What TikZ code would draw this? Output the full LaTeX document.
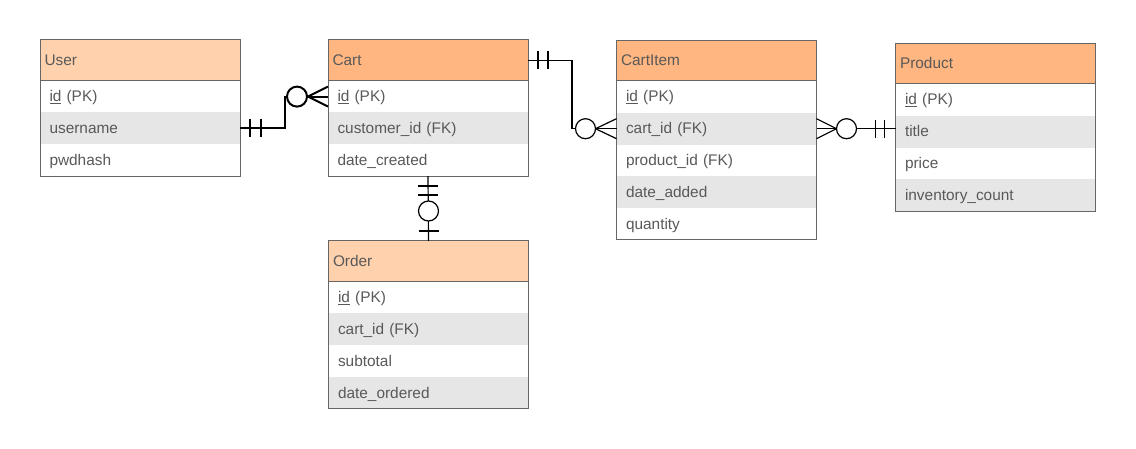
\documentclass[tikz,border=0pt]{standalone}
\usepackage{fontspec}
\setmainfont{Liberation Sans}
\usetikzlibrary{calc}
\definecolor{orA}{HTML}{FFB680}
\definecolor{orB}{HTML}{FFD1AC}
\definecolor{rowgray}{HTML}{E6E6E6}
\definecolor{bord}{HTML}{666666}
\definecolor{txt}{HTML}{595959}
\newcommand\efont{\fontsize{15.4}{18}\selectfont}
\tikzset{
  hdr/.style={draw=bord, line width=1pt, minimum height=40.7pt, text width=191pt,
    inner xsep=4.5pt, inner ysep=0pt, outer sep=0pt, anchor=north west, align=left, font=\efont,
    text=txt, text height=12pt, text depth=2pt},
  hdrA/.style={hdr, fill=orA},
  hdrB/.style={hdr, fill=orB},
  row/.style={minimum height=31.8pt, text width=181pt, inner xsep=9.5pt, inner ysep=0pt,
    outer sep=0pt, anchor=north west, align=left, text=txt, fill=white, font=\efont,
    text height=12pt, text depth=2pt},
  rowg/.style={row, fill=rowgray},
  frame/.style={draw=bord, line width=1pt},
  rel/.style={line width=1.2pt, black},
  relb/.style={line width=2pt, black},
}
\begin{document}
\begin{tikzpicture}[x=1pt,y=-1pt]
\fill[white] (0,0) rectangle (1136,449);
\useasboundingbox (0,0) rectangle (1136,449);
% User
\node[hdrB] (u0) at (40,40) {User};
\node[row]  (u1) at (u0.south west) {\underline{id} (PK)};
\node[rowg] (u2) at (u1.south west) {username};
\node[row]  (u3) at (u2.south west) {pwdhash};
\draw[frame] (u1.north west) rectangle (u3.south east);
% Cart
\node[hdrA] (c0) at (328,40) {Cart};
\node[row]  (c1) at (c0.south west) {\underline{id} (PK)};
\node[rowg] (c2) at (c1.south west) {customer\_id (FK)};
\node[row]  (c3) at (c2.south west) {date\_created};
\draw[frame] (c1.north west) rectangle (c3.south east);
% CartItem
\node[hdrA] (ci0) at (616.5,40.3) {CartItem};
\node[row]  (ci1) at (ci0.south west) {\underline{id} (PK)};
\node[rowg] (ci2) at (ci1.south west) {cart\_id (FK)};
\node[row]  (ci3) at (ci2.south west) {product\_id (FK)};
\node[rowg] (ci4) at (ci3.south west) {date\_added};
\node[row]  (ci5) at (ci4.south west) {quantity};
\draw[frame] (ci1.north west) rectangle (ci5.south east);
% Product
\node[hdrA] (p0) at (895.5,43.3) {Product};
\node[row]  (p1) at (p0.south west) {\underline{id} (PK)};
\node[rowg] (p2) at (p1.south west) {title};
\node[row]  (p3) at (p2.south west) {price};
\node[rowg] (p4) at (p3.south west) {inventory\_count};
\draw[frame] (p1.north west) rectangle (p4.south east);
% Order
\node[hdrB] (o0) at (328.5,241) {Order};
\node[row]  (o1) at (o0.south west) {\underline{id} (PK)};
\node[rowg] (o2) at (o1.south west) {cart\_id (FK)};
\node[row]  (o3) at (o2.south west) {subtotal};
\node[rowg] (o4) at (o3.south west) {date\_ordered};
\draw[frame] (o1.north west) rectangle (o4.south east);
% User -- Cart
\draw[relb] (u2.east) -- ++(45,0) |- (c1.west);
\draw[relb] (u2.east) ++(10,-9) -- ++(0,18);
\draw[relb] (u2.east) ++(21,-9) -- ++(0,18);
\draw[relb] (c1.west) ++(0,-10) -- ++(-20,10) -- ++(20,10);
\draw[relb, fill=white] (c1.west) ++(-31,0) circle[radius=10];
% Cart -- CartItem
\draw[rel] (c0.east) -- ++(44,0) |- (ci2.west);
\draw[rel] (c0.east) ++(10,-9) -- ++(0,18);
\draw[rel] (c0.east) ++(20,-9) -- ++(0,18);
\draw[rel] (ci2.west) ++(0,-10) -- ++(-21,10) -- ++(21,10);
\draw[rel, fill=white] (ci2.west) ++(-31,0) circle[radius=10];
% CartItem -- Product
\draw[rel] (ci2.east) -- (ci2.east -| p0.west);
\draw[rel] (ci2.east) ++(0,-10) -- ++(20,10) -- ++(-20,10);
\draw[rel, fill=white] (ci2.east) ++(30,0) circle[radius=10];
\draw[rel] (ci2.east -| p0.west) ++(-20,-9) -- ++(0,18);
\draw[rel] (ci2.east -| p0.west) ++(-11,-9) -- ++(0,18);
% Cart -- Order
\draw[rel] (c3.south) -- (o0.north);
\draw[rel] (c3.south) ++(-10,10) -- ++(20,0);
\draw[rel] (c3.south) ++(-10,19) -- ++(20,0);
\draw[rel, fill=white] (o0.north) ++(0,-30) circle[radius=10];
\draw[rel] (o0.north) ++(-10,-10) -- ++(20,0);
\end{tikzpicture}
\end{document}
